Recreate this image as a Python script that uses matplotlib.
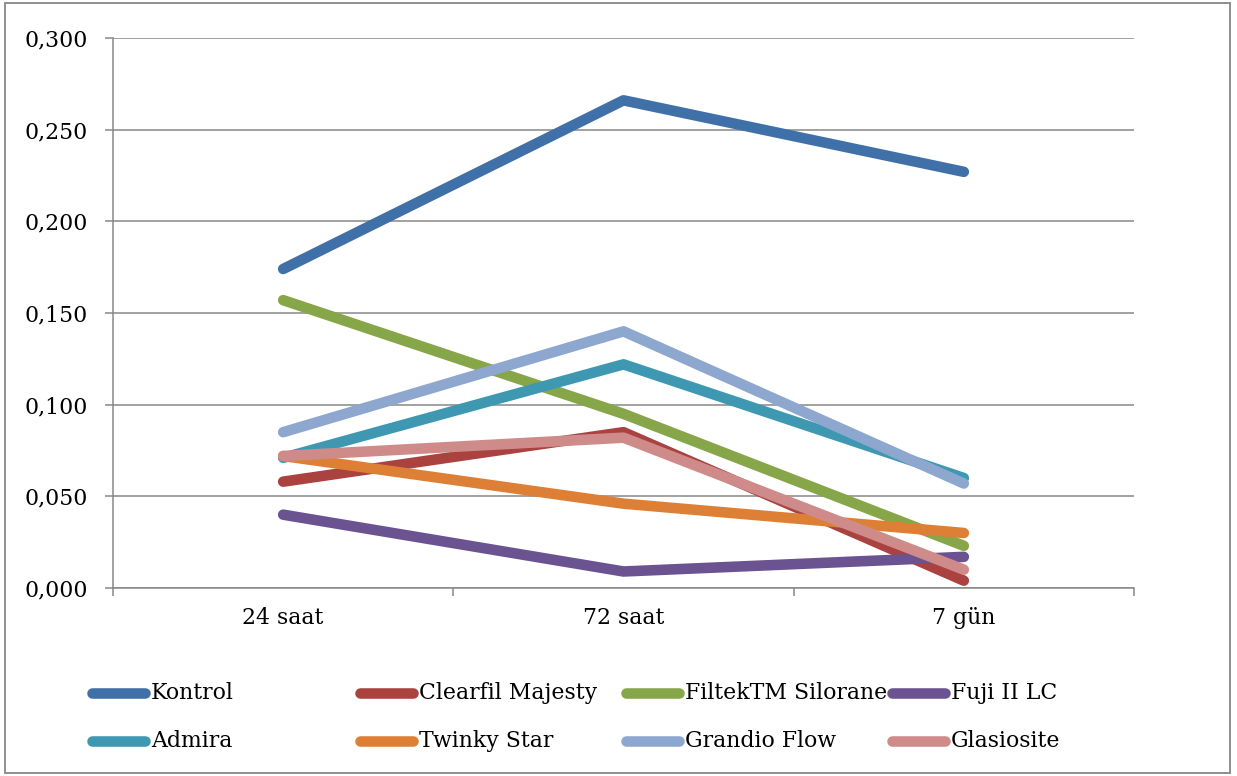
import matplotlib
matplotlib.use("Agg")
import matplotlib.pyplot as plt
from matplotlib.lines import Line2D
from matplotlib.patches import Rectangle

# Measurement periods
categories = ["24 saat", "72 saat", "7 gün"]

# Series values per material
kontrol = [0.174, 0.266, 0.227]
clearfil_majesty = [0.058, 0.085, 0.004]
filtek_silorane = [0.157, 0.095, 0.023]
fuji_ii_lc = [0.040, 0.009, 0.017]
admira = [0.071, 0.122, 0.060]
twinky_star = [0.072, 0.046, 0.030]
grandio_flow = [0.085, 0.140, 0.057]
glasiosite = [0.072, 0.082, 0.010]

series_names = ["Kontrol", "Clearfil Majesty", "FiltekTM Silorane", "Fuji II LC",
                "Admira", "Twinky Star", "Grandio Flow", "Glasiosite"]
series_values = [kontrol, clearfil_majesty, filtek_silorane, fuji_ii_lc,
                 admira, twinky_star, grandio_flow, glasiosite]
series_colors = ["#4070A8", "#AA4240", "#87A64A", "#6B5290",
                 "#3E98B2", "#DD8036", "#8DA7CF", "#CF8B8A"]

y_ticks = [0.0, 0.05, 0.10, 0.15, 0.20, 0.25, 0.30]
y_tick_labels = ["0,000", "0,050", "0,100", "0,150", "0,200", "0,250", "0,300"]

FONT = "DejaVu Serif"
FS = 15.8
GRAY = "#878787"
LW = 7.6
W, H = 1237, 776

fig = plt.figure(figsize=(W / 100, H / 100), dpi=100)
fig.patch.set_facecolor("white")

# outer frame of the chart area
fig.patches.append(Rectangle((5 / W, 3 / H), (1230 - 5) / W, (773 - 3) / H,
                             transform=fig.transFigure, fill=False,
                             edgecolor=GRAY, linewidth=1.3))

ax = fig.add_axes([113 / W, 1 - 588 / H, (1134 - 113) / W, (588 - 38) / H])

xpos = [i + 0.5 for i in range(len(categories))]
for name, vals, col in zip(series_names, series_values, series_colors):
    ax.plot(xpos, vals, color=col, linewidth=LW, solid_capstyle="round",
            solid_joinstyle="round", label=name)

ax.set_xlim(0, len(categories))
ax.set_ylim(0, 0.30)

ax.set_yticks(y_ticks)
ax.set_yticklabels(y_tick_labels, fontfamily=FONT, fontsize=FS)
ax.tick_params(axis="y", length=6, width=1.1, color=GRAY, pad=12)

ax.set_xticks(xpos)
ax.set_xticklabels(categories, fontfamily=FONT, fontsize=FS)
ax.set_xticks(range(len(categories) + 1), minor=True)
ax.tick_params(axis="x", which="major", length=0, pad=14)
ax.tick_params(axis="x", which="minor", length=6, width=1.1, color=GRAY)

ax.grid(axis="y", color=GRAY, linewidth=1.1)
ax.set_axisbelow(True)
for side in ["top", "right"]:
    ax.spines[side].set_visible(False)
for side in ["left", "bottom"]:
    ax.spines[side].set_color(GRAY)
    ax.spines[side].set_linewidth(1.1)

# legend laid out in a fixed 4x2 grid
col_x = [88, 356, 622, 888]
row_y = [693, 741]
for i, (name, col) in enumerate(zip(series_names, series_colors)):
    r, c = divmod(i, 4)
    x0 = col_x[c]
    y0 = 1 - row_y[r] / H
    fig.add_artist(Line2D([(x0 + 4) / W, (x0 + 57) / W], [y0, y0],
                          transform=fig.transFigure, color=col, linewidth=LW,
                          solid_capstyle="round"))
    fig.text((x0 + 63) / W, y0, name, fontfamily=FONT, fontsize=FS,
             ha="left", va="center")

fig.savefig("out.png", dpi=100)
